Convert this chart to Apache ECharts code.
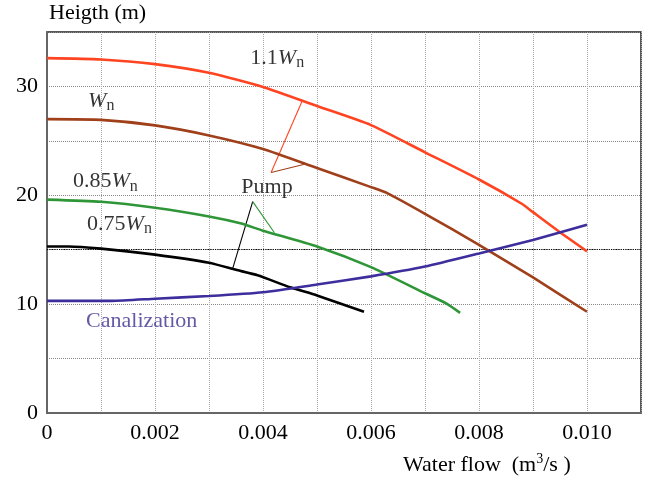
<!DOCTYPE html>
<html>
<head>
<meta charset="utf-8">
<script src="https://cdn.jsdelivr.net/npm/echarts@6/dist/echarts.min.js"></script>
<style>
html,body{margin:0;padding:0;background:#fff;}
#chart{width:652px;height:486px;}
</style>
</head>
<body>
<div id="chart"></div>
<script>
// ---- data (x: water flow m^3/s, y: height m) ----
const curve11Wn = [[0,32.6],[0.001,32.48],[0.002,32.05],[0.003,31.25],[0.004,29.95],[0.005,28.2],[0.006,26.45],[0.007,23.95],[0.008,21.45],[0.0088,19.2],[0.009,18.45],[0.0095,16.6],[0.010,14.85]];
const curveWn = [[0,27.0],[0.001,26.93],[0.002,26.42],[0.003,25.5],[0.004,24.25],[0.005,22.5],[0.006,20.75],[0.0063,20.2],[0.007,18.3],[0.008,15.45],[0.009,12.45],[0.010,9.3]];
const curve085Wn = [[0,19.6],[0.001,19.4],[0.002,18.85],[0.003,18.05],[0.0036,17.4],[0.004,16.75],[0.005,15.3],[0.006,13.4],[0.007,11.0],[0.0074,10.05],[0.00765,9.2]];
const curve075Wn = [[0,15.3],[0.0004,15.3],[0.001,15.1],[0.002,14.55],[0.003,13.8],[0.0035,13.15],[0.0039,12.65],[0.0045,11.55],[0.005,10.8],[0.00587,9.3]];
const canalization = [[0,10.3],[0.0012,10.3],[0.002,10.5],[0.003,10.75],[0.004,11.1],[0.005,11.8],[0.006,12.55],[0.007,13.45],[0.008,14.65],[0.009,15.9],[0.010,17.3]];

// pump annotation leader lines (data coordinates)
const leaderRed = [[0.004725,28.66],[0.00415,22.1]];
const leaderBrown = [[0.00415,22.1],[0.004787,22.87]];
const leaderBlack = [[0.003438,13.27],[0.003809,19.42]];
const leaderGreen = [[0.003809,19.42],[0.004212,16.56]];

// text labels anchored in data coordinates (left-middle)
const labelPoints = [
  {name:'1.1Wn', value:[0.003766,32.6], text:'{a|1.1}{w|W}{s|n}', color:'#000'},
  {name:'Wn', value:[0.000761,28.66], text:'{w|W}{s|n}', color:'#000'},
  {name:'0.85Wn', value:[0.000482,21.25], text:'{a|0.85}{w|W}{s|n}', color:'#000'},
  {name:'0.75Wn', value:[0.000742,17.37], text:'{a|0.75}{w|W}{s|n}', color:'#000'},
  {name:'Pump', value:[0.003599,20.7], text:'{a|Pump}', color:'#000'},
  {name:'Canalization', value:[0.000724,8.44], text:'{c|Canalization}', color:'#3c3090'}
];

const xMin = 0, xMax = 0.011, xStep = 0.001;
const yMin = 0, yMax = 35, yStep = 5;
const FONT = 'Liberation Serif';

const chart = echarts.init(document.getElementById('chart'), null, {renderer:'canvas'});

function mainLine(data, color){
  return {type:'line', data:data, smooth:0.2, showSymbol:false, symbol:'none',
    lineStyle:{color:color, width:2.6}, z:5, silent:true};
}
function leader(data, color){
  return {type:'line', data:data, showSymbol:false, symbol:'none',
    lineStyle:{color:color, width:1.1}, z:4, silent:true};
}

const option = {
  animation:false,
  backgroundColor:'#fff',
  grid:{left:47, top:32, right:11, bottom:73, show:true, borderColor:'#222', borderWidth:1.5, backgroundColor:'transparent'},
  xAxis:{type:'value', min:xMin, max:xMax, interval:xStep,
    axisLine:{show:true, lineStyle:{color:'#666', width:2}},
    axisTick:{show:false},
    splitLine:{show:true, lineStyle:{color:'#aaa', type:'dotted', width:1}},
    axisLabel:{fontFamily:FONT, fontSize:22, color:'#000', margin:9,
      formatter:function(v){const k=Math.round(v*1000); if(k===0) return '0'; if(k%2!==0) return ''; return (k/1000).toFixed(3);} }
  },
  yAxis:{type:'value', min:yMin, max:yMax, interval:yStep,
    axisLine:{show:true, lineStyle:{color:'#666', width:2}},
    axisTick:{show:false},
    splitLine:{show:true, lineStyle:{color:'#888', type:'dotted', width:1}},
    axisLabel:{fontFamily:FONT, fontSize:22, color:'#000', margin:9,
      formatter:function(v){const k=Math.round(v); return (k%10===0 && k<35) ? String(k) : '';} }
  },
  graphic:[
    {type:'text', left:49, top:2, style:{text:'Heigth (m)', font:'22px "Liberation Serif"', fill:'#000'}},
    {type:'text', left:403, top:452, style:{
      text:'{t|Water flow  (m}{p|3}{t|/s )}',
      rich:{t:{fontFamily:FONT, fontSize:22, color:'#000', verticalAlign:'bottom'},
            p:{fontFamily:FONT, fontSize:14, color:'#000', verticalAlign:'top', padding:[0,0,10,0]}}
    }}
  ],
  series:[
    mainLine(curve11Wn,'#ff4422'),
    mainLine(curveWn,'#a0401a'),
    mainLine(curve085Wn,'#2f9638'),
    mainLine(curve075Wn,'#000000'),
    Object.assign(mainLine(canalization,'#3c2e9c'), {
      markLine:{silent:true, symbol:'none', label:{show:false},
        lineStyle:{color:'#000', type:'dotted', width:1.2}, data:[{yAxis:15}]}
    }),
    leader(leaderRed,'#ff4422'),
    leader(leaderBrown,'#a0401a'),
    leader(leaderBlack,'#000000'),
    leader(leaderGreen,'#2f9638'),
    {type:'scatter', symbolSize:0, silent:true, z:6,
      data:labelPoints.map(p=>({name:p.name, value:p.value, label:{color:p.color}})),
      label:{show:true, position:'right', distance:0,
        formatter:function(params){return labelPoints[params.dataIndex].text;},
        rich:{
          a:{fontFamily:FONT, fontSize:22, color:'#000'},
          w:{fontFamily:FONT, fontSize:22, fontStyle:'italic', color:'#000'},
          s:{fontFamily:FONT, fontSize:16, color:'#000', padding:[10,0,0,0]},
          c:{fontFamily:FONT, fontSize:22, color:'#3c3090'}
        }
      }
    }
  ]
};
chart.setOption(option);
</script>
</body>
</html>
